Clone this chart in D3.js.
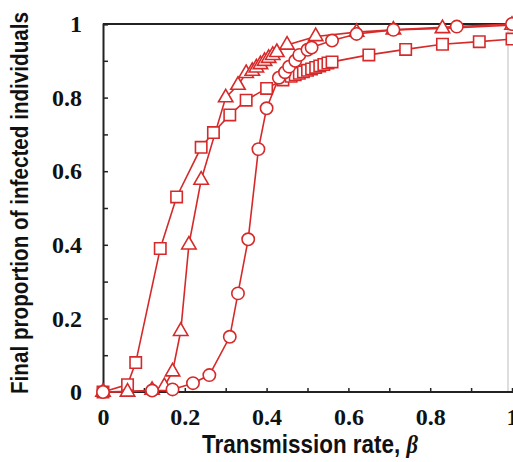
<!DOCTYPE html>
<html>
<head>
<meta charset="utf-8">
<script src="https://cdn.jsdelivr.net/npm/d3@7"></script>
<style>
  html, body { margin: 0; padding: 0; background: #fff; }
  svg { display: block; }
  .tick text { font-family: "Liberation Serif", "Times New Roman", serif; font-weight: bold; font-size: 24px; fill: #111; }
</style>
</head>
<body>
<svg id="chart" width="513" height="462"></svg>
<script>
// Transmission rate (beta) and final infected proportion, three network models
const squareBeta = [0, 0.06, 0.08, 0.14, 0.18, 0.24, 0.27, 0.31, 0.35, 0.40, 0.44, 0.46, 0.47, 0.48, 0.49, 0.50, 0.51, 0.52, 0.53, 0.54, 0.55, 0.56, 0.65, 0.74, 0.83, 0.92, 1.0];
const squareFinal = [0, 0.02, 0.08, 0.39, 0.53, 0.665, 0.705, 0.753, 0.793, 0.825, 0.848, 0.858, 0.862, 0.866, 0.870, 0.874, 0.878, 0.882, 0.886, 0.890, 0.894, 0.897, 0.916, 0.931, 0.945, 0.952, 0.959];

const triangleBeta = [0, 0.06, 0.12, 0.15, 0.17, 0.19, 0.21, 0.24, 0.30, 0.33, 0.35, 0.365, 0.375, 0.385, 0.395, 0.405, 0.415, 0.425, 0.45, 0.52, 0.62, 0.71, 0.83, 1.0];
const triangleFinal = [0, 0, 0.005, 0.015, 0.055, 0.165, 0.40, 0.576, 0.80, 0.834, 0.866, 0.872, 0.881, 0.890, 0.899, 0.907, 0.915, 0.923, 0.943, 0.966, 0.978, 0.984, 0.988, 0.997];

const circleBeta = [0, 0.12, 0.17, 0.22, 0.26, 0.31, 0.33, 0.355, 0.38, 0.40, 0.43, 0.445, 0.455, 0.47, 0.48, 0.50, 0.51, 0.56, 0.62, 0.71, 0.865, 1.0];
const circleFinal = [0, 0.004, 0.007, 0.024, 0.046, 0.15, 0.268, 0.415, 0.66, 0.771, 0.854, 0.869, 0.884, 0.90, 0.916, 0.93, 0.936, 0.955, 0.973, 0.984, 0.993, 1.0];

const tickValues = [0, 0.1, 0.2, 0.3, 0.4, 0.5, 0.6, 0.7, 0.8, 0.9, 1.0];
const xTitle = "Transmission rate, ";
const xTitleSymbol = "β";
const yTitle = "Final proportion of infected individuals";

const red = "#d62a2a";
const svg = d3.select("#chart");

const x = d3.scaleLinear().domain([0, 1]).range([103, 512]);
const y = d3.scaleLinear().domain([0, 1]).range([392, 24]);

const fmt = d => {
  const k = Math.round(d * 10);
  if (k % 2 !== 0) return "";
  if (k === 0) return "0";
  if (k === 10) return "1";
  return (k / 10).toFixed(1);
};

// right frame edge (light) and top frame edge
svg.append("line").attr("x1", 508).attr("x2", 508).attr("y1", y(1)).attr("y2", y(0))
  .attr("stroke", "#bdbdbd").attr("stroke-width", 1);
svg.append("line").attr("x1", x(0)).attr("x2", 513).attr("y1", y(1)).attr("y2", y(1))
  .attr("stroke", "#222").attr("stroke-width", 2);

// axes with inward ticks
const xAxis = svg.append("g").attr("transform", `translate(0,${y(0)})`)
  .call(d3.axisBottom(x).tickValues(tickValues).tickSize(-4).tickPadding(16).tickFormat(fmt));
const yAxis = svg.append("g").attr("transform", `translate(${x(0)},0)`)
  .call(d3.axisLeft(y).tickValues(tickValues).tickSize(-5).tickPadding(21).tickFormat(fmt));

[xAxis, yAxis].forEach(g => {
  g.select(".domain").attr("stroke", "#222").attr("stroke-width", 2);
  g.selectAll(".tick line").attr("stroke", "#222").attr("stroke-width", 1.5);
});
xAxis.select(".domain").attr("transform", `translate(${x(0) - 1},0)`)
  .attr("d", `M0,0H${513 - x(0) + 1}`);

// x-axis title: condensed bold sans with an italic beta, squeezed to width 216
const xt = svg.append("text")
  .attr("font-family", "'Liberation Sans', Arial, sans-serif")
  .attr("font-weight", "bold").attr("font-size", 25).attr("fill", "#111");
xt.append("tspan").text(xTitle);
xt.append("tspan").attr("font-family", "'Liberation Serif', serif")
  .attr("font-style", "italic").text(xTitleSymbol);
const natural = xt.node().getComputedTextLength();
xt.attr("transform", `translate(202,453) scale(${216 / natural},1)`);

svg.append("text")
  .attr("transform", "translate(28,203) rotate(-90)")
  .attr("text-anchor", "middle")
  .attr("font-family", "'Liberation Sans', Arial, sans-serif")
  .attr("font-weight", "bold").attr("font-size", 24).attr("fill", "#111")
  .attr("textLength", 382).attr("lengthAdjust", "spacingAndGlyphs")
  .text(yTitle);

// series
const line = d3.line().x(d => x(d[0])).y(d => y(d[1]));
const series = [
  { xs: squareBeta, ys: squareFinal, shape: d3.symbolSquare, size: 130 },
  { xs: triangleBeta, ys: triangleFinal, shape: d3.symbolTriangle, size: 90 },
  { xs: circleBeta, ys: circleFinal, shape: d3.symbolCircle, size: 120 }
];

series.forEach(s => {
  const pts = s.xs.map((v, i) => [v, s.ys[i]]);
  svg.append("path").datum(pts).attr("d", line)
    .attr("fill", "none").attr("stroke", red).attr("stroke-width", 1.6);
});
series.forEach(s => {
  const pts = s.xs.map((v, i) => [v, s.ys[i]]);
  svg.append("g").selectAll("path").data(pts).join("path")
    .attr("transform", d => `translate(${x(d[0])},${y(d[1])})`)
    .attr("d", d3.symbol().type(s.shape).size(s.size))
    .attr("fill", "#fff").attr("stroke", red).attr("stroke-width", 1.6);
});
</script>
</body>
</html>
